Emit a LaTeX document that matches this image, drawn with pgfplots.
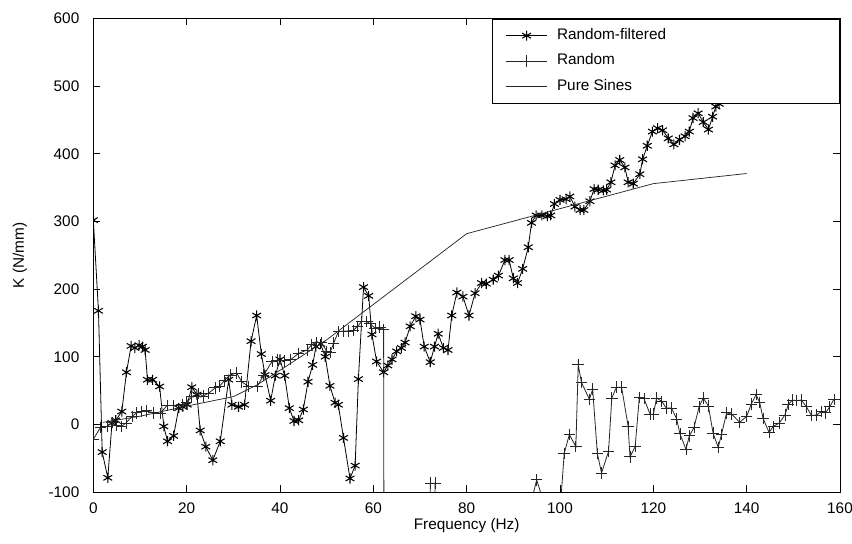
\documentclass[border=0pt]{standalone}
\usepackage{fontspec}
\setmainfont{Liberation Sans}
\usepackage{pgfplots}
\usepackage{pgfplotstable}
\pgfplotsset{compat=1.18}

\newcommand{\fsz}{\fontsize{11.5}{13}\selectfont}

% K in N/mm against frequency in Hz
\pgfplotstableread{
f K
0 302
1.1 168
1.9 -41
3.1 -79
4 2
4.8 6
6.1 19
7.1 77
8.1 116
8.9 113
9.8 117
10.5 115
11.1 110
11.6 66
12.7 66
14.2 56
15.1 -3
15.9 -25
17.2 -17
18.3 24
19.2 26
20.1 29
21.1 55
22.2 44
22.9 -9
24.1 -33
25.6 -53
27.2 -25
29.0 66
29.7 29
31.1 26
32.4 29
33.8 123
35.0 161
36.0 104
36.8 73
38.0 35
39.0 72
40.0 96
41.0 72
42.0 24
43.0 5
44.0 6
45.0 22
46.0 63
47.0 88
47.7 115
48.7 119
49.7 100
50.7 57
51.8 32
52.5 29
53.6 -20
55.0 -80
56.1 -61
56.8 67
57.9 203
59.0 190
59.7 133
60.7 93
62.2 77
63.1 87
64.0 96
65.0 108
66.0 113
66.8 121
67.9 145
69.1 160
70.0 155
70.9 115
72.2 92
73.1 115
73.9 134
75.0 113
76.0 110
76.8 161
77.9 195
79.2 189
80.5 161
81.8 194
83.2 209
84.2 208
85.7 214
86.8 220
88.2 243
89.1 243
90.0 216
90.9 209
92.0 230
93.2 262
93.9 298
94.9 309
96.1 309
97.3 308
98.0 309
98.8 326
100.0 332
101.3 333
102.1 337
103.2 322
104.3 317
105.1 317
106.4 330
107.3 348
108.2 347
109.3 346
110.0 347
110.9 358
111.8 383
112.8 391
113.9 380
114.6 358
115.7 356
117.1 370
117.7 392
118.7 412
119.8 433
120.9 438
122.0 435
123.2 423
124.4 414
125.6 421
126.8 426
127.7 433
128.5 453
129.6 460
130.7 447
131.8 436
132.7 455
133.4 470
134.1 474
135.0 492
}\filtered

\pgfplotstableread{
f K
0 -22
1.5 -5
3 -3
4 3
5 -2
6 -3
7 2
8.3 12
9.3 17
10.4 19
11.4 20
12.9 17
14.3 16
15.8 28
17.2 28
19 29
20 32
21.1 41
22.5 46
23.5 42
24.7 46
26.1 54
27 56
28.1 65
29.3 73
30.7 76
31.8 63
33.3 56
35.1 56
36.5 73
38.3 93
39.4 95
40.9 94
42.3 96
44 105
45.8 110
46.8 118
47.8 121
48.9 121
50 108
50.7 106
51.5 120
52.5 137
53.6 138
54.6 138
55.7 139
56.6 145
57.5 152
58.6 152
59.3 149
60.4 142
61.4 144
62.2 140
62.4 -700
71.9 -700
72.2 -87
73.2 -87
73.5 -700
94.2 -700
94.3 -102
95 -82
95.9 -102
100.3 -101
100.9 -43
102 -15
103.4 -33
103.9 88
104.6 62
106.3 37
107 52
108 -43
108.9 -72
110.4 -40
111.1 39
112.1 55
113.2 55
114.6 -3
115 -48
116.1 -33
117 40
118 38
119.3 15
120 15
120.7 39
121.8 34
122.8 24
123.9 24
125 8
125.7 -14
127 -37
127.7 -17
128.7 -5
129.8 26
130.7 39
131.8 27
132.8 -13
133.9 -34
134.6 -15
135.7 17
136.8 15
138.5 3
140 12
141 30
142 44
142.8 32
143.5 9
144.8 -12
145.7 -3
147 2
148.2 14
148.9 29
149.8 36
150.7 35
151.7 36
152.8 26
153.9 13
155 14
156 19
156.9 17
157.8 26
158.7 37
}\random

\pgfplotstableread{
f K
2 3
10 12
20 27
30 41
35 58
40 80
50 125
80 282
120 356
140 371
}\sines

\begin{document}
\begin{tikzpicture}
\begin{axis}[
    scale only axis,
    width=560pt, height=355pt,
    xmin=0, xmax=160, ymin=-100, ymax=600,
    xtick={0,20,...,160},
    ytick={-100,0,...,600},
    tick align=inside,
    major tick length=5pt,
    axis line style={line width=0.6pt},
    every tick/.style={line width=0.6pt, black},
    tick label style={font=\fsz},
    /pgf/number format/assume math mode=true,
    xticklabel style={yshift=-4.5pt},
    yticklabel style={xshift=-7pt},
    xlabel={Frequency (Hz)},
    ylabel={K (N/mm)},
    every axis x label/.style={at={(axis description cs:0.5,0)}, anchor=center, yshift=-25pt, font=\fsz},
    every axis y label/.style={at={(axis description cs:0,0.5)}, anchor=center, xshift=-55pt, rotate=90, font=\fsz},
    clip marker paths=true,
    legend image code/.code={\draw[mark repeat=2,mark phase=2,#1] plot coordinates {(0pt,0pt) (15.5pt,0pt) (31pt,0pt)};},
    legend style={at={(1,1)}, anchor=north east, draw=black, fill=white,
      line width=0.5pt, inner xsep=10pt, inner ysep=4.5pt, row sep=3pt, column sep=5pt,
      nodes={inner sep=2pt, text height=9pt, text depth=3pt, font=\fsz}},
    legend cell align=left,
]
\addplot[black, line width=0.6pt, mark=asterisk, mark size=3.8pt, mark options={line width=0.8pt}] table {\filtered};
\addplot[black!85, line width=0.6pt, mark=+, mark size=4.3pt, mark options={line width=0.6pt}] table {\random};
\addplot[black!85, line width=0.55pt] table {\sines};
\legend{\makebox[200pt][l]{Random-filtered}, \makebox[200pt][l]{Random}, \makebox[200pt][l]{Pure Sines}}
\end{axis}
\pgfresetboundingbox
\path ([xshift=-70pt,yshift=-39pt]current axis.south west) rectangle ([xshift=9pt,yshift=14pt]current axis.north east);
\end{tikzpicture}
\end{document}
